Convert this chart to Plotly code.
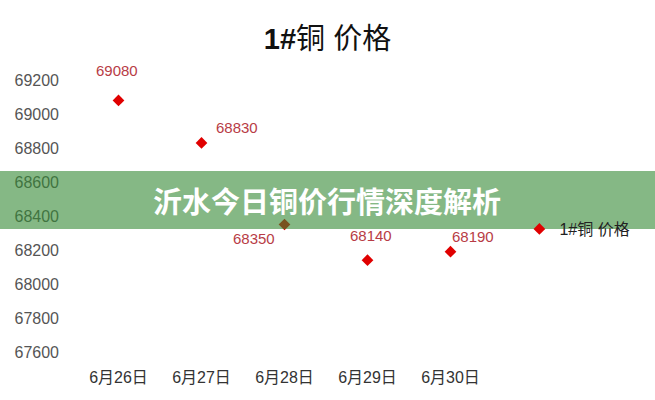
import plotly.graph_objects as go

# data
dates = ['6月26日', '6月27日', '6月28日', '6月29日', '6月30日']
prices = [69080, 68830, 68350, 68140, 68190]
y_ticks = [67600, 67800, 68000, 68200, 68400, 68600, 68800, 69000, 69200]

# label offsets in px (hand placed in the original)
label_dx = [-2, 35, -31, 3, 22]
label_dy = [30, 15, -14, 25, 15]

num_font = 'Liberation Sans, Noto Sans CJK SC'

fig = go.Figure()
fig.add_trace(go.Scatter(
    x=dates, y=prices, mode='markers', name='1#铜 价格',
    marker=dict(symbol='diamond', size=9, color='#e00000'),
))

for d, p, dx, dy in zip(dates, prices, label_dx, label_dy):
    fig.add_annotation(x=d, y=p, text=str(p), showarrow=False,
                       xshift=dx, yshift=dy,
                       font=dict(family=num_font, size=15, color='#b83c46'))

# green banner across the middle
fig.add_shape(type='rect', xref='paper', yref='paper',
              x0=-0.3, x1=1.6, y0=0.452, y1=0.665,
              fillcolor='rgb(52,136,52)', opacity=0.6,
              line=dict(width=0), layer='above')
fig.add_annotation(xref='paper', yref='paper', x=0.602, y=0.56,
                   text='<b>沂水今日铜价行情深度解析</b>', showarrow=False,
                   font=dict(family='Noto Sans CJK SC', size=29, color='white'))

fig.update_layout(
    width=655, height=400,
    margin=dict(l=77, r=163, t=80, b=48),
    paper_bgcolor='white', plot_bgcolor='white',
    title=dict(text='<b>1#</b>铜 价格', x=0.5, xref='container', xanchor='center',
               y=0.904, yref='container', yanchor='middle',
               font=dict(family='Liberation Sans, Noto Sans CJK SC', size=29, color='#111')),
    xaxis=dict(range=[-0.5, 4.5], showgrid=False, showline=False, zeroline=False,
               ticks='', ticklabelstandoff=14,
               tickfont=dict(family=num_font, size=16, color='#333')),
    yaxis=dict(range=[67600, 69200], tickvals=y_ticks, tickformat='d', showgrid=False,
               showline=False, zeroline=False, ticks='', ticklabelstandoff=17,
               tickfont=dict(family=num_font, size=16, color='#555')),
    showlegend=True,
    legend=dict(x=1.066, y=0.452, xanchor='left', yanchor='middle',
                font=dict(family=num_font, size=16, color='#222'),
                bgcolor='rgba(0,0,0,0)'),
)

fig.write_html('out.html', config={'displayModeBar': False},
               post_script="document.body.style.margin='0';")
